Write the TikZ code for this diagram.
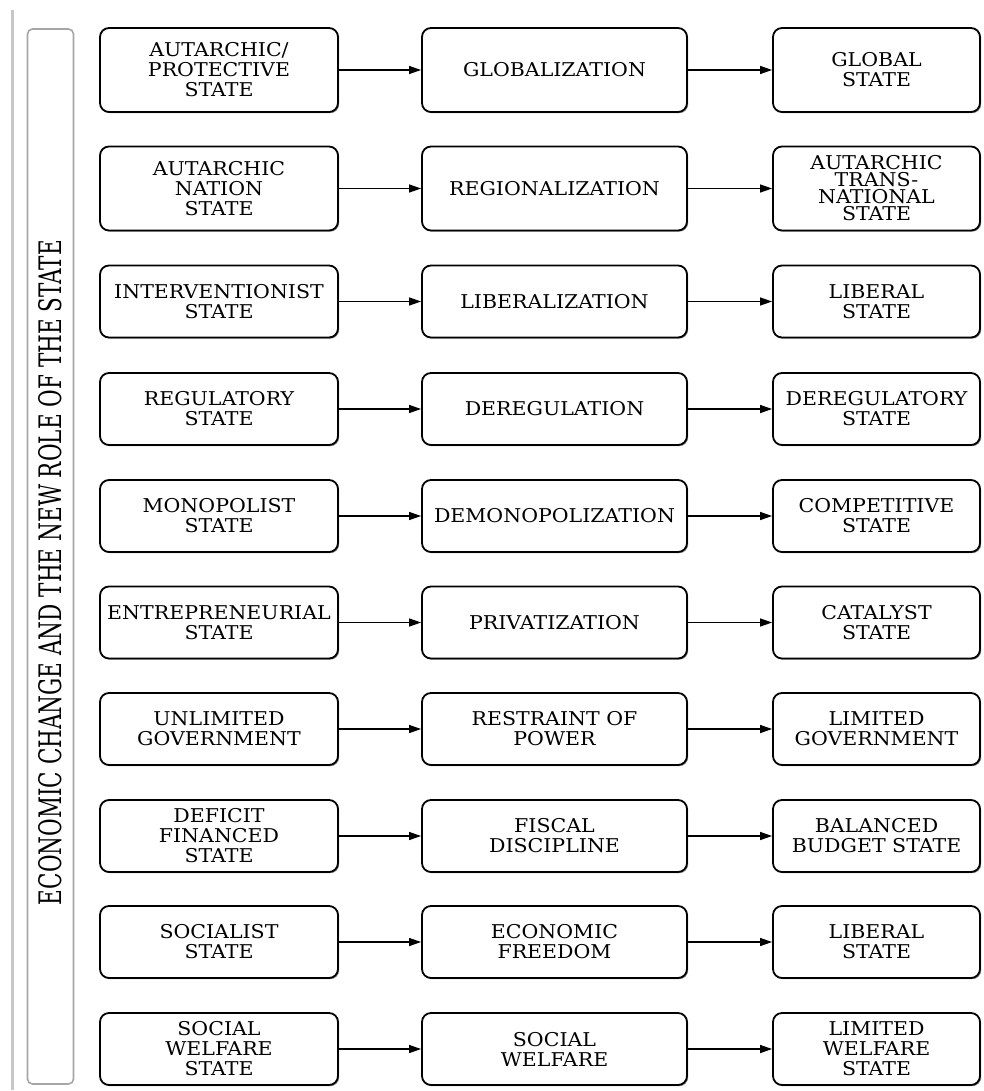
\documentclass[tikz,border=0pt]{standalone}
\usepackage{fontspec}
\setmainfont{DejaVu Serif}[FakeStretch=1.08]
\usepackage{graphicx}
\usetikzlibrary{arrows.meta,shadows}
\begin{document}
\begin{tikzpicture}[x=1pt,y=1pt]
\tikzset{
  box/.style={draw=black, line width=1.8pt, rounded corners=9pt, fill=white,
    align=center, inner sep=2pt, font=\fontsize{19}{20}\selectfont,
    drop shadow={shadow xshift=1.2pt, shadow yshift=-1.2pt, fill=black!45, opacity=1}},
  colA/.style={box, minimum width=238pt},
  colB/.style={box, minimum width=265pt},
  colC/.style={box, minimum width=207pt},
  tall/.style={minimum height=84pt},
  short/.style={minimum height=72pt},
  conn/.style={-{Triangle[length=12pt,width=8pt]}, line width=1.2pt, black},
}
\useasboundingbox (0,0) rectangle (984,-1091);
\fill[white] (0,0) rectangle (984,-1091);
% left rule and title frame
\draw[black!22, line width=3pt] (12.5,-10) -- (12.5,-1090);
\node[draw=black!35, line width=1.6pt, rounded corners=5pt, minimum width=46pt, minimum height=1055pt, inner sep=0pt] (frame) at (50.5,-556.5) {};
\node[rotate=90, inner sep=0pt] (title) at (50,-572.5) {\resizebox{665pt}{23pt}{ECONOMIC CHANGE AND THE NEW ROLE OF THE STATE}};

% row 1
\node[colA,tall] (a1) at (219,-70) {AUTARCHIC/\\PROTECTIVE\\STATE};
\node[colB,tall] (b1) at (554.5,-70) {GLOBALIZATION};
\node[colC,tall] (c1) at (876.5,-70) {GLOBAL\\STATE};
% row 2
\node[colA,tall] (a2) at (219,-188.5) {AUTARCHIC\\NATION\\STATE};
\node[colB,tall] (b2) at (554.5,-188.5) {REGIONALIZATION};
\node[colC,tall,font=\fontsize{19}{17}\selectfont] (c2) at (876.5,-188.5) {AUTARCHIC\\TRANS-\\NATIONAL\\STATE};
% row 3
\node[colA,short] (a3) at (219,-301.5) {INTERVENTIONIST\\STATE};
\node[colB,short] (b3) at (554.5,-301.5) {LIBERALIZATION};
\node[colC,short] (c3) at (876.5,-301.5) {LIBERAL\\STATE};
% row 4
\node[colA,short] (a4) at (219,-409) {REGULATORY\\STATE};
\node[colB,short] (b4) at (554.5,-409) {DEREGULATION};
\node[colC,short] (c4) at (876.5,-409) {DEREGULATORY\\STATE};
% row 5
\node[colA,short] (a5) at (219,-516) {MONOPOLIST\\STATE};
\node[colB,short] (b5) at (554.5,-516) {DEMONOPOLIZATION};
\node[colC,short] (c5) at (876.5,-516) {COMPETITIVE\\STATE};
% row 6
\node[colA,short] (a6) at (219,-622.5) {ENTREPRENEURIAL\\STATE};
\node[colB,short] (b6) at (554.5,-622.5) {PRIVATIZATION};
\node[colC,short] (c6) at (876.5,-622.5) {CATALYST\\STATE};
% row 7
\node[colA,short] (a7) at (219,-729) {UNLIMITED\\GOVERNMENT};
\node[colB,short] (b7) at (554.5,-729) {RESTRAINT OF\\POWER};
\node[colC,short] (c7) at (876.5,-729) {LIMITED\\GOVERNMENT};
% row 8
\node[colA,short] (a8) at (219,-836) {DEFICIT\\FINANCED\\STATE};
\node[colB,short] (b8) at (554.5,-836) {FISCAL\\DISCIPLINE};
\node[colC,short] (c8) at (876.5,-836) {BALANCED\\BUDGET STATE};
% row 9
\node[colA,short] (a9) at (219,-942) {SOCIALIST\\STATE};
\node[colB,short] (b9) at (554.5,-942) {ECONOMIC\\FREEDOM};
\node[colC,short] (c9) at (876.5,-942) {LIBERAL\\STATE};
% row 10
\node[colA,short] (a10) at (219,-1049) {SOCIAL\\WELFARE\\STATE};
\node[colB,short] (b10) at (554.5,-1049) {SOCIAL\\WELFARE};
\node[colC,short] (c10) at (876.5,-1049) {LIMITED\\WELFARE\\STATE};

\foreach \i in {1,...,10}{
  \draw[conn] (a\i.east) -- (b\i.west);
  \draw[conn] (b\i.east) -- (c\i.west);
}
\end{tikzpicture}
\end{document}
